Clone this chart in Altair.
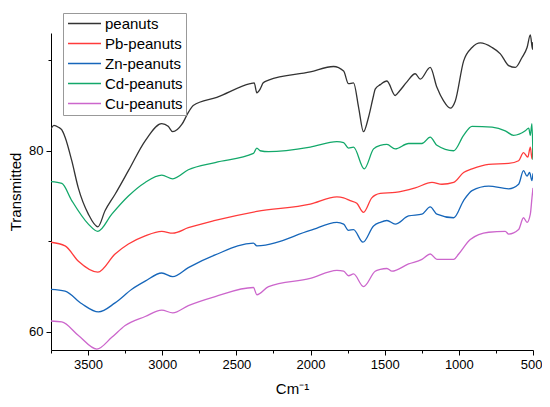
import altair as alt
import pandas as pd

series_names = ["peanuts", "Pb-peanuts", "Zn-peanuts", "Cd-peanuts", "Cu-peanuts"]
series_colors = ["#333333", "#FF3B3B", "#1666BA", "#13A86A", "#CC66CC"]

peanuts_wn = [3750, 3730, 3700, 3677, 3655, 3610, 3566, 3498, 3434, 3385, 3318, 3228, 3115,
              3003, 2960, 2929, 2868, 2825, 2791, 2632, 2407, 2380, 2362, 2340, 2319, 2283,
              2002, 1845, 1777, 1744, 1710, 1676, 1643, 1609, 1575, 1564, 1530, 1485, 1429,
              1400, 1350, 1294, 1260, 1193, 1148, 1103, 1058, 1024, 968, 911, 855, 776, 720,
              664, 619, 574, 540, 518, 503, 500]
peanuts_t = [82.4, 82.8, 82.6, 82.3, 81.5, 78.9, 75.9, 73.0, 71.6, 73.4, 75.2, 77.8, 81.1,
             83.0, 82.7, 82.1, 82.9, 84.2, 85.0, 85.9, 87.4, 87.5, 86.4, 86.8, 87.5, 87.8,
             88.7, 89.3, 88.8, 87.4, 87.5, 84.8, 82.1, 83.7, 86.1, 86.8, 87.3, 87.7, 86.1,
             86.6, 87.6, 88.5, 87.9, 89.2, 87.0, 85.5, 84.7, 85.5, 89.9, 91.4, 91.9, 91.4, 90.7,
             89.4, 89.2, 90.3, 91.4, 92.8, 91.2, 92.0]

pb_wn = [3750, 3655, 3565, 3434, 3318, 3228, 3115, 3003, 2929, 2824, 2643, 2362, 2002, 1822,
         1777, 1733, 1688, 1643, 1587, 1564, 1530, 1429, 1294, 1181, 1114, 1035, 968, 911,
         799, 664, 597, 564, 535, 518, 507, 500]
pb_t = [69.9, 69.5, 67.8, 66.6, 68.6, 69.7, 70.6, 71.1, 70.9, 71.5, 72.3, 73.3, 74.1, 74.9,
        74.8, 74.5, 74.2, 73.2, 74.8, 75.1, 75.3, 75.4, 75.9, 76.5, 76.3, 76.5, 77.6, 78.0,
        78.5, 78.6, 78.9, 79.8, 79.3, 80.4, 79.1, 80.3]

zn_wn = [3750, 3655, 3542, 3430, 3318, 3205, 3115, 3003, 2929, 2824, 2643, 2385, 2362, 2002,
         1822, 1777, 1744, 1710, 1647, 1575, 1530, 1485, 1429, 1339, 1249, 1193, 1148, 1035,
         968, 911, 799, 664, 597, 564, 540, 523, 507, 500]
zn_t = [64.7, 64.5, 63.1, 62.2, 63.2, 64.7, 65.6, 66.5, 66.1, 67.1, 68.5, 69.8, 69.5, 71.2,
        72.1, 71.9, 71.2, 71.3, 69.9, 71.7, 72.1, 72.3, 71.9, 72.8, 73.0, 73.8, 73.0, 72.6,
        74.5, 75.6, 76.1, 75.8, 76.3, 77.8, 77.2, 77.6, 76.7, 77.5]

cd_wn = [3750, 3677, 3610, 3498, 3434, 3340, 3228, 3115, 3003, 2929, 2824, 2643, 2385, 2362,
         2340, 2283, 2002, 1822, 1777, 1744, 1710, 1638, 1575, 1530, 1485, 1429, 1339, 1249,
         1193, 1148, 1035, 968, 911, 776, 687, 631, 552, 529, 518, 507, 500]
cd_t = [76.6, 76.4, 74.5, 71.9, 71.1, 73.0, 75.0, 76.5, 77.3, 76.9, 77.9, 78.7, 79.7, 80.3,
        80.0, 79.9, 80.4, 81.0, 80.9, 80.3, 80.4, 78.0, 80.2, 80.6, 80.7, 80.2, 80.8, 80.8,
        81.5, 80.6, 80.0, 81.7, 82.7, 82.6, 82.2, 81.7, 82.2, 82.5, 81.7, 83.0, 79.0]

cu_wn = [3750, 3677, 3565, 3441, 3340, 3250, 3115, 3003, 2929, 2824, 2643, 2385, 2362, 2283,
         2002, 1822, 1777, 1744, 1710, 1643, 1564, 1530, 1485, 1451, 1339, 1249, 1193, 1148,
         1035, 1001, 923, 799, 687, 664, 597, 564, 540, 518, 507, 500]
cu_t = [61.2, 61.1, 59.6, 58.1, 59.4, 60.7, 61.7, 62.4, 62.1, 62.9, 63.9, 64.9, 64.1, 65.0,
        65.9, 66.8, 66.7, 66.2, 66.4, 65.0, 66.7, 66.9, 67.0, 66.7, 67.5, 68.0, 68.6, 68.0,
        68.0, 68.6, 70.2, 71.0, 71.1, 70.8, 71.3, 72.6, 72.1, 73.0, 74.8, 75.9]

x_tick_values = [3750, 3500, 3250, 3000, 2750, 2500, 2250, 2000, 1750, 1500, 1250, 1000, 750, 500]
y_tick_values = [60, 70, 80, 90]

rows = []
for name, wn, tv in [("peanuts", peanuts_wn, peanuts_t), ("Pb-peanuts", pb_wn, pb_t),
                     ("Zn-peanuts", zn_wn, zn_t), ("Cd-peanuts", cd_wn, cd_t),
                     ("Cu-peanuts", cu_wn, cu_t)]:
    for i, (w, v) in enumerate(zip(wn, tv)):
        rows.append({"series": name, "wn": w, "t": v, "ord": i})
df = pd.DataFrame(rows)

FONT = "Liberation Sans"

chart = alt.Chart(df).mark_line(strokeWidth=1.3, clip=True, interpolate="monotone").encode(
    x=alt.X("wn:Q",
            scale=alt.Scale(domain=[3750, 500], nice=False, zero=False),
            axis=alt.Axis(values=x_tick_values, format="d",
                          labelExpr="datum.value % 500 == 0 ? datum.label : ''",
                          tickSize={"condition": {"test": "datum.value % 500 == 0", "value": 5}, "value": 3},
                          title="Cm⁻¹", titlePadding=10, labelPadding=3, grid=False,
                          labelFlush=True, labelFlushOffset=9, labelOverlap=False)),
    y=alt.Y("t:Q",
            scale=alt.Scale(domain=[58, 93], nice=False, zero=False),
            axis=alt.Axis(values=y_tick_values,
                          labelExpr="datum.value % 20 == 0 ? datum.label : ''",
                          tickSize={"condition": {"test": "datum.value % 20 == 0", "value": 5}, "value": 3},
                          title="Transmitted", titlePadding=5, labelPadding=3, grid=False,
                          labelFlush=False, labelOverlap=False)),
    color=alt.Color("series:N",
                    scale=alt.Scale(domain=series_names, range=series_colors),
                    legend=alt.Legend(title=None, orient="none", legendX=12, legendY=-20,
                                      symbolType="M-3.3,0H3.3", symbolSize=100, symbolStrokeWidth=1.5,
                                      symbolOffset=11, labelOffset=13,
                                      labelFontSize=15, labelFont=FONT, labelColor="#000",
                                      strokeColor="#999999", fillColor="white", padding=3,
                                      rowPadding=4, labelLimit=200)),
    order="ord:Q",
).properties(
    width=482, height=317,
    autosize=alt.AutoSizeParams(type="none"),
    padding={"left": 43, "top": 25, "right": 9, "bottom": 49},
).configure_view(stroke=None).configure_axis(
    labelFont=FONT, labelFontSize=13, labelColor="#000",
    titleFont=FONT, titleFontSize=15, titleFontWeight="normal", titleColor="#000",
    domainColor="#000", tickColor="#000", domainWidth=1, tickWidth=1,
)

chart.save("out.html", embed_options={"renderer": "svg", "actions": False})
